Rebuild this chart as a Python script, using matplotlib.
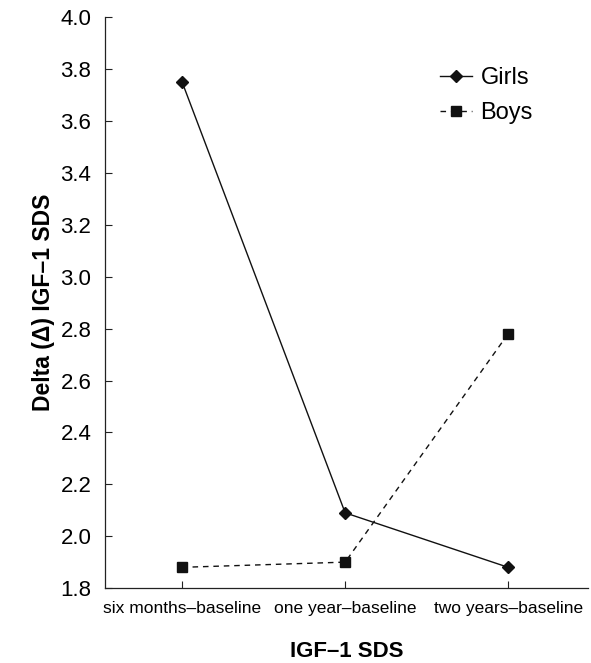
import matplotlib.pyplot as plt

plt.rcParams['font.family'] = ['Liberation Sans', 'DejaVu Sans']

periods = ["six months\u2013baseline", "one year\u2013baseline", "two years\u2013baseline"]
girls = [3.75, 2.09, 1.88]
boys = [1.88, 1.90, 2.78]
yticks = [1.8, 2.0, 2.2, 2.4, 2.6, 2.8, 3.0, 3.2, 3.4, 3.6, 3.8, 4.0]

fig = plt.figure(figsize=(5.91, 6.63), dpi=100)
ax = fig.add_axes([0.178, 0.113, 0.817, 0.861])

x = range(len(periods))
ax.plot(x, girls, color='#111111', lw=1.0, marker='D', markersize=6.5, label='Girls')
ax.plot(x, boys, color='#111111', lw=1.0, ls=(0, (4, 3.5)), marker='s', markersize=6.5, label='Boys')

ax.set_xlim(-0.472, 2.49)
ax.set_ylim(1.8, 4.0)
ax.set_yticks(yticks)
ax.set_yticklabels([f"{v:.1f}" for v in yticks], fontsize=16)
ax.set_xticks(list(x))
ax.set_xticklabels(periods, fontsize=12.5)
ax.tick_params(axis='both', direction='in', length=5, width=0.8, color='#222222')
ax.tick_params(axis='y', pad=10)
ax.tick_params(axis='x', pad=9)

for side in ['top', 'right']:
    ax.spines[side].set_visible(False)
for side in ['left', 'bottom']:
    ax.spines[side].set_linewidth(0.9)
    ax.spines[side].set_color('#222222')

ax.set_ylabel("Delta (\u0394) IGF\u20131 SDS", fontsize=16.5, fontweight='bold', labelpad=4)
ax.set_xlabel("IGF\u20131 SDS", fontsize=16, fontweight='bold', labelpad=18)

ax.legend(loc='upper left', bbox_to_anchor=(0.694, 0.913), frameon=False, fontsize=17,
          borderpad=0, borderaxespad=0, handlelength=1.36, handletextpad=0.34,
          labelspacing=0.55)

fig.savefig('out.png', dpi=100)
